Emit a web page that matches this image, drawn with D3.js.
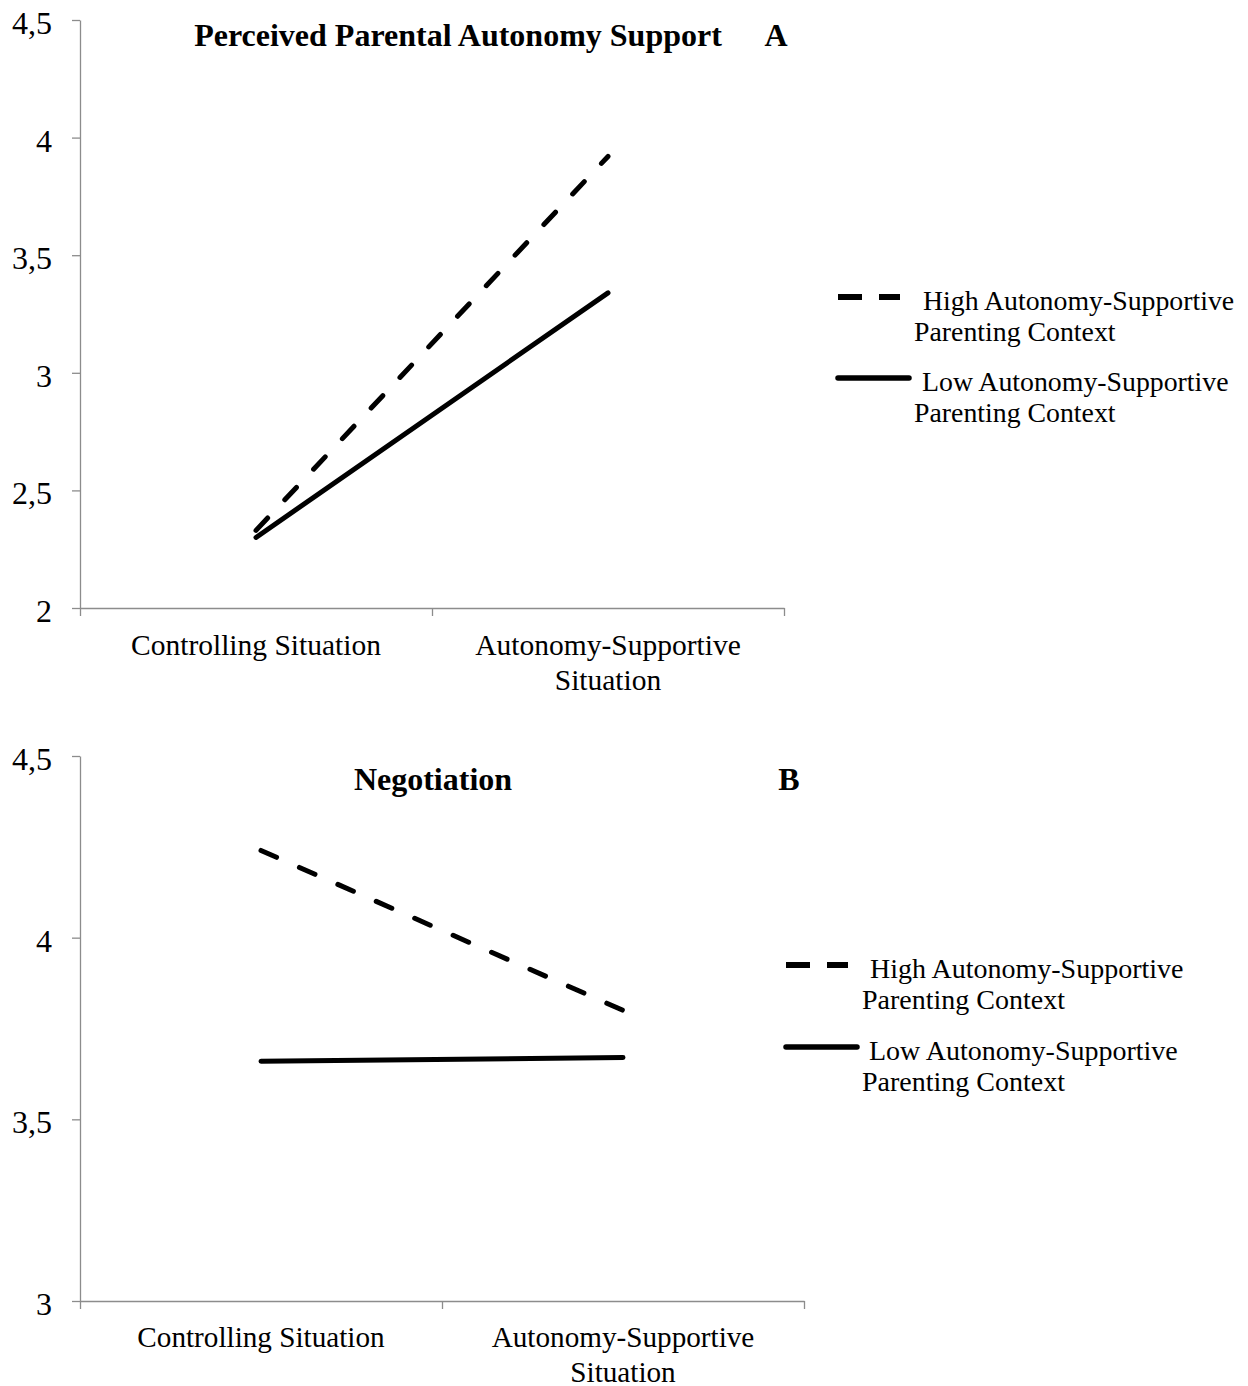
<!DOCTYPE html>
<html>
<head>
<meta charset="utf-8">
<script src="https://cdn.jsdelivr.net/npm/d3@7"></script>
<style>
  html, body { margin: 0; padding: 0; background: #fff; }
  svg { display: block; }
  text { font-family: "Liberation Serif", "Times New Roman", serif; fill: #000; }
</style>
</head>
<body>
<svg id="chart" width="1248" height="1386"></svg>
<script>
// Situations on the x axis
const situations = ["Controlling Situation", "Autonomy-Supportive Situation"];
// Series names (legend)
const seriesNames = ["High Autonomy-Supportive Parenting Context", "Low Autonomy-Supportive Parenting Context"];

// Panel A: Perceived Parental Autonomy Support
const autonomyHigh = [2.33, 3.92];
const autonomyLow = [2.30, 3.34];
const autonomyTicks = [2, 2.5, 3, 3.5, 4, 4.5];

// Panel B: Negotiation
const negotiationHigh = [4.24, 3.80];
const negotiationLow = [3.66, 3.67];
const negotiationTicks = [3, 3.5, 4, 4.5];

const svg = d3.select("#chart");
const fmt = v => String(v).replace(".", ",");

function addText(parent, x, y, str, size, anchor, bold) {
  return parent.append("text")
    .attr("x", x).attr("y", y)
    .attr("text-anchor", anchor || "start")
    .style("font-size", size + "px")
    .style("font-weight", bold ? "bold" : "normal")
    .text(str);
}

function drawPanel(cfg) {
  const g = svg.append("g");
  const x = d3.scaleBand().domain(situations).range([cfg.left, cfg.right]);
  const xEdge = d3.scaleLinear().domain([0, situations.length]).range([cfg.left, cfg.right]);
  const y = d3.scaleLinear().domain(cfg.domain).range([cfg.bottom, cfg.top]);

  // y axis
  const yAxis = g.append("g")
    .attr("transform", `translate(${cfg.left},0)`)
    .call(d3.axisLeft(y).tickValues(cfg.ticks).tickFormat(fmt).tickSize(8).tickSizeOuter(0));
  yAxis.select(".domain").attr("stroke", "#8c8c8c").attr("stroke-width", 1.3);
  yAxis.selectAll(".tick line").attr("stroke", "#8c8c8c").attr("stroke-width", 1.3);
  yAxis.selectAll(".tick text")
    .attr("x", -28).attr("dy", "0.42em")
    .style("font-family", "'Liberation Serif', serif")
    .style("font-size", "32px").attr("fill", "#000");

  // x axis: ticks on category boundaries
  const xAxis = g.append("g")
    .attr("transform", `translate(0,${cfg.bottom})`)
    .call(d3.axisBottom(xEdge).tickValues(d3.range(situations.length + 1)).tickFormat("").tickSize(8).tickSizeOuter(0));
  xAxis.select(".domain").attr("stroke", "#8c8c8c").attr("stroke-width", 1.3);
  xAxis.selectAll(".tick line").attr("stroke", "#8c8c8c").attr("stroke-width", 1.3);

  // category labels (wrapped)
  situations.forEach(s => {
    const cx = x(s) + x.bandwidth() / 2;
    const lines = s === "Autonomy-Supportive Situation" ? ["Autonomy-Supportive", "Situation"] : [s];
    lines.forEach((ln, i) => addText(g, cx, cfg.bottom + cfg.labelOffset + i * 34.5, ln, cfg.catSize, "middle"));
  });

  // series lines
  const line = d3.line()
    .x((d, i) => x(situations[i]) + x.bandwidth() / 2)
    .y(d => y(d));
  g.append("path").datum(cfg.high)
    .attr("d", line).attr("fill", "none").attr("stroke", "#000")
    .attr("stroke-width", 5).attr("stroke-linecap", "round")
    .attr("stroke-dasharray", "17,25");
  g.append("path").datum(cfg.low)
    .attr("d", line).attr("fill", "none").attr("stroke", "#000")
    .attr("stroke-width", 5).attr("stroke-linecap", "round");

  // title and panel letter
  addText(g, cfg.titleX, cfg.titleY, cfg.title, 32, "middle", true);
  addText(g, cfg.letterX, cfg.titleY, cfg.letter, 32, "middle", true);

  // legend
  const L = cfg.legend;
  g.append("line").attr("x1", L.x).attr("x2", L.x + 62).attr("y1", L.y1).attr("y2", L.y1)
    .attr("stroke", "#000").attr("stroke-width", 6).attr("stroke-dasharray", "24,17");
  g.append("line").attr("x1", L.x).attr("x2", L.x + 71).attr("y1", L.y2).attr("y2", L.y2)
    .attr("stroke", "#000").attr("stroke-width", 5.5).attr("stroke-linecap", "round");
  const addLegendText = (name, yy, firstX) => {
    const parts = name.split(" Parenting ");
    addText(g, firstX, yy + 13, parts[0], L.size);
    addText(g, L.x + L.textIndent, yy + 44, "Parenting " + parts[1], L.size);
  };
  addLegendText(seriesNames[0], L.y1, L.x + L.firstIndent);
  addLegendText(seriesNames[1], L.y2, L.x + L.firstIndent - 1);
}

drawPanel({
  left: 80, right: 784, top: 20, bottom: 608,
  domain: [2, 4.5], ticks: autonomyTicks,
  high: autonomyHigh, low: autonomyLow,
  labelOffset: 47, catSize: 29.5,
  title: "Perceived Parental Autonomy Support", titleX: 458, titleY: 46,
  letter: "A", letterX: 776,
  legend: { x: 838, y1: 297, y2: 378, firstIndent: 85, textIndent: 76, size: 27.8 }
});

drawPanel({
  left: 80, right: 804, top: 756, bottom: 1301,
  domain: [3, 4.5], ticks: negotiationTicks,
  high: negotiationHigh, low: negotiationLow,
  labelOffset: 46, catSize: 29.2,
  title: "Negotiation", titleX: 433, titleY: 790,
  letter: "B", letterX: 789,
  legend: { x: 786, y1: 965, y2: 1047, firstIndent: 84, textIndent: 76, size: 28 }
});
</script>
</body>
</html>
